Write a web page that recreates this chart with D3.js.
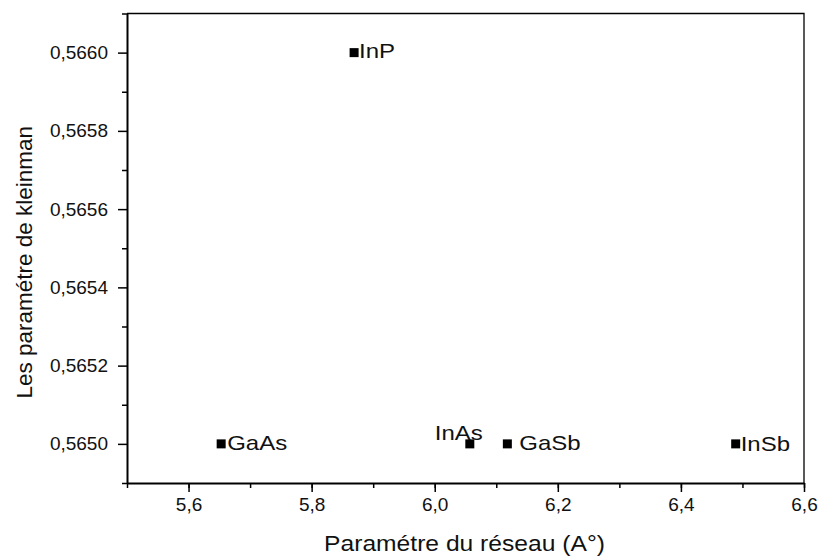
<!DOCTYPE html>
<html>
<head>
<meta charset="utf-8">
<script src="https://cdn.jsdelivr.net/npm/d3@7"></script>
<style>
  html, body { margin: 0; padding: 0; background: #fff; }
  svg { display: block; font-family: "Liberation Sans", Arial, sans-serif; }
</style>
</head>
<body>
<svg id="chart" width="821" height="558"></svg>
<script>
// ---- data ----
const materials = ["GaAs", "InP", "InAs", "GaSb", "InSb"];
const latticeParam = [5.653, 5.869, 6.057, 6.118, 6.489];
const kleinmanParam = [0.5650, 0.5660, 0.5650, 0.5650, 0.5650];
const xMajorTicks = [5.6, 5.8, 6.0, 6.2, 6.4, 6.6];
const yMajorTicks = [0.5650, 0.5652, 0.5654, 0.5656, 0.5658, 0.5660];
const xTitle = "Paramétre du réseau (A°)";
const yTitle = "Les paramétre de kleinman";

(function () {
// ---- layout ----
const svg = d3.select("#chart");
const pl = 127, pr = 804, pt = 13.5, pb = 483;
const x = d3.scaleLinear().domain([5.5, 6.6]).range([pl, pr]);
const y = d3.scaleLinear().domain([0.5649, 0.5661]).range([pb, pt]);
const comma = f => v => f(v).replace(".", ",");

// minor ticks
const xMinor = d3.range(0, 12).map(i => +(5.5 + i * 0.1).toFixed(2));
const yMinor = d3.range(0, 7).map(i => +(0.5649 + i * 0.0002).toFixed(4));

svg.append("g")
  .attr("transform", `translate(0,${pb})`)
  .call(d3.axisBottom(x).tickValues(xMinor).tickSize(5).tickFormat(""))
  .call(g => g.select(".domain").remove())
  .call(g => g.selectAll("line").attr("stroke", "#000").attr("stroke-width", 1.5));
svg.append("g")
  .attr("transform", `translate(${pl},0)`)
  .call(d3.axisLeft(y).tickValues(yMinor).tickSize(5).tickFormat(""))
  .call(g => g.select(".domain").remove())
  .call(g => g.selectAll("line").attr("stroke", "#000").attr("stroke-width", 1.5));

// major axes
const xAxis = svg.append("g")
  .attr("transform", `translate(0,${pb})`)
  .call(d3.axisBottom(x).tickValues(xMajorTicks).tickSize(9).tickSizeOuter(0).tickPadding(6)
    .tickFormat(comma(d3.format(".1f"))));
const yAxis = svg.append("g")
  .attr("transform", `translate(${pl},0)`)
  .call(d3.axisLeft(y).tickValues(yMajorTicks).tickSize(9).tickSizeOuter(0).tickPadding(10)
    .tickFormat(comma(d3.format(".4f"))));
[xAxis, yAxis].forEach(a => {
  a.select(".domain").attr("stroke", "#000").attr("stroke-width", 2);
  a.selectAll(".tick line").attr("stroke", "#000").attr("stroke-width", 1.5);
  a.selectAll(".tick text").attr("fill", "#111").attr("font-size", 19)
    .attr("font-family", "'Liberation Sans', Arial, sans-serif");
});

// frame top & right
svg.append("path")
  .attr("d", `M${pl},${pt}H${pr}V${pb}`)
  .attr("fill", "none").attr("stroke", "#000").attr("stroke-width", 1.3);

// axis titles
svg.append("g")
  .attr("transform", `translate(${(pl + pr) / 2 - 1},551) scale(1.12,1)`)
  .append("text").attr("text-anchor", "middle").attr("font-size", 22).attr("fill", "#111")
  .text(xTitle);
svg.append("g")
  .attr("transform", `translate(32,${(pt + pb) / 2 + 14}) rotate(-90)`)
  .append("text").attr("text-anchor", "middle").attr("font-size", 22.5).attr("fill", "#111")
  .text(yTitle);

// points
const pts = materials.map((m, i) => ({ name: m, a: latticeParam[i], k: kleinmanParam[i] }));
const sq = 9;
svg.append("g").selectAll("rect").data(pts).join("rect")
  .attr("x", d => x(d.a) - sq / 2).attr("y", d => y(d.k) - sq / 2)
  .attr("width", sq).attr("height", sq).attr("fill", "#000");

// point labels (offsets relative to the point)
const labelLayout = {
  GaAs: { dx: 6, dy: 6, anchor: "start" },
  InP:  { dx: 5, dy: 5, anchor: "start" },
  InAs: { dx: 13, dy: -4, anchor: "end" },
  GaSb: { dx: 12, dy: 6, anchor: "start" },
  InSb: { dx: 5, dy: 7, anchor: "start" }
};
svg.append("g").selectAll("g").data(pts).join("g")
  .attr("transform", d => `translate(${x(d.a) + labelLayout[d.name].dx},${y(d.k) + labelLayout[d.name].dy}) scale(1.2,1)`)
  .append("text")
  .attr("text-anchor", d => labelLayout[d.name].anchor)
  .attr("font-size", 20).attr("fill", "#111")
  .text(d => d.name);
})();
</script>
</body>
</html>
